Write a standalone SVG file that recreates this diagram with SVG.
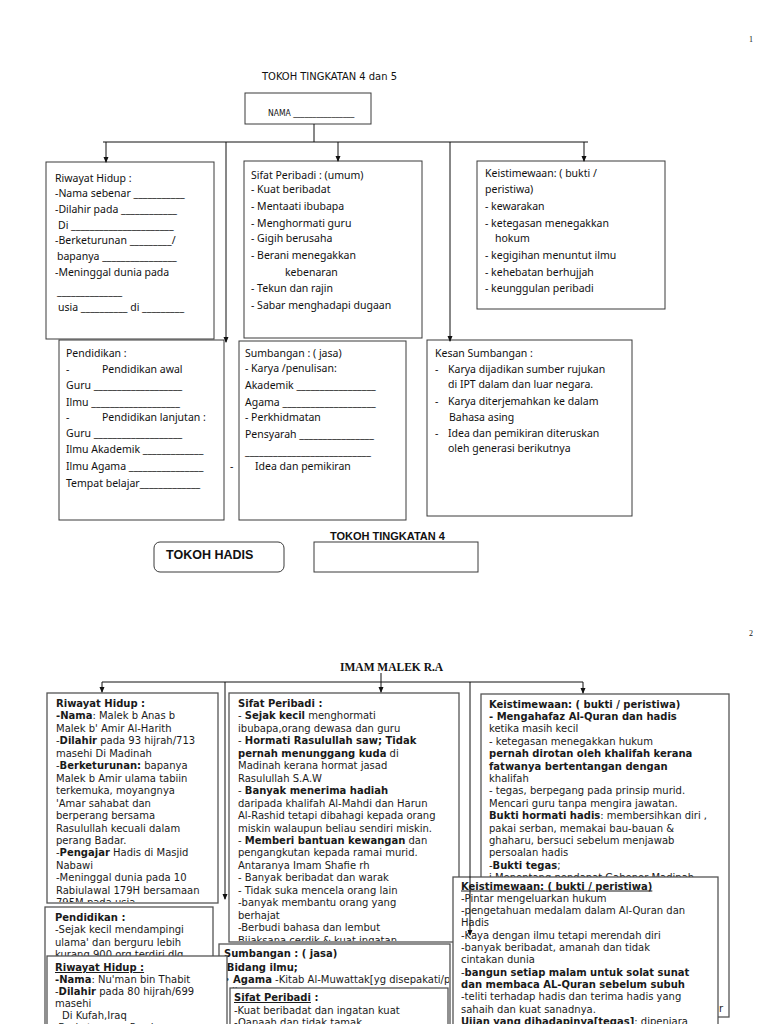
<svg xmlns="http://www.w3.org/2000/svg" width="768" height="1024" viewBox="0 0 768 1024">
<style>
.box{fill:#fff;stroke:#3a3a3a;stroke-width:1}
.box2{fill:#fff;stroke:#555;stroke-width:1.3}
.t1{font-family:"Noto Sans","DejaVu Sans",sans-serif;font-size:10.5px;fill:#111}
.t2{font-family:"DejaVu Sans",sans-serif;font-size:10px;fill:#1a1a1a}
.tc{font-family:"DejaVu Sans Condensed","DejaVu Sans",sans-serif;fill:#111}
.hb{font-family:"Liberation Sans",Arial,sans-serif;font-weight:bold;fill:#111}
.b{font-weight:bold}
.u{text-decoration:underline}
.ln{stroke:#111;stroke-width:1;fill:none}
.pg{font-family:"Liberation Serif",serif;font-size:8px;fill:#111}
</style>
<defs>
<marker id="ah" markerWidth="6" markerHeight="6" refX="5" refY="3" orient="auto" markerUnits="userSpaceOnUse">
<path d="M0,0.5 L6,3 L0,5.5 z" fill="#111"/>
</marker>
<clipPath id="cR1"><rect x="48" y="694" width="169" height="208"/></clipPath>
<clipPath id="cS1"><rect x="230" y="694" width="228" height="247"/></clipPath>
<clipPath id="cK1"><rect x="482" y="695" width="246" height="321"/></clipPath>
<clipPath id="cP2"><rect x="46" y="908" width="166" height="120"/></clipPath>
<clipPath id="cSu"><rect x="220" y="945" width="229" height="80"/></clipPath>
<clipPath id="cK2"><rect x="454" y="878" width="263" height="150"/></clipPath>
</defs>
<rect width="768" height="1024" fill="#fff"/>

<!-- PAGE 1 -->
<text class="pg" x="749" y="42">1</text>
<text class="tc" x="262" y="80" font-size="11" textLength="135" lengthAdjust="spacingAndGlyphs">TOKOH TINGKATAN 4 dan 5</text>

<g id="nama">
<rect class="box" x="245" y="93" width="126" height="31"/>
<text class="tc" x="268" y="116" font-size="8.5">NAMA ________________</text>
</g>

<g id="riwayat1">
<rect class="box" x="46" y="162" width="168" height="177"/>
<text class="t1" x="55" y="182">Riwayat Hidup :</text>
<text class="t1" x="55" y="197">-Nama sebenar ___________</text>
<text class="t1" x="55" y="213">-Dilahir pada ____________</text>
<text class="t1" x="58" y="229">Di ______________________</text>
<text class="t1" x="55" y="244">-Berketurunan _________/</text>
<text class="t1" x="57" y="260">bapanya ________________</text>
<text class="t1" x="55" y="276">-Meninggal dunia pada</text>
<text class="t1" x="57" y="295">______________</text>
<text class="t1" x="58" y="311">usia __________ di _________</text>
</g>

<g id="sifat1">
<rect class="box" x="244" y="161" width="178" height="177"/>
<text class="t1" x="251" y="179">Sifat Peribadi : (umum)</text>
<text class="t1" x="251" y="193">- Kuat beribadat</text>
<text class="t1" x="251" y="210">- Mentaati ibubapa</text>
<text class="t1" x="251" y="227">- Menghormati guru</text>
<text class="t1" x="251" y="242">- Gigih berusaha</text>
<text class="t1" x="251" y="259">- Berani menegakkan</text>
<text class="t1" x="285" y="276">kebenaran</text>
<text class="t1" x="251" y="292">- Tekun dan rajin</text>
<text class="t1" x="251" y="309">- Sabar menghadapi dugaan</text>
</g>

<g id="keist1">
<rect class="box" x="477" y="161" width="188" height="148"/>
<text class="t1" x="485" y="177">Keistimewaan: ( bukti /</text>
<text class="t1" x="485" y="193">peristiwa)</text>
<text class="t1" x="485" y="210">- kewarakan</text>
<text class="t1" x="485" y="227">- ketegasan menegakkan</text>
<text class="t1" x="495" y="242">hokum</text>
<text class="t1" x="485" y="259">- kegigihan menuntut ilmu</text>
<text class="t1" x="485" y="276">- kehebatan berhujjah</text>
<text class="t1" x="485" y="292">- keunggulan peribadi</text>
</g>

<g id="pendidikan1">
<rect class="box" x="59" y="340" width="165" height="180"/>
<text class="t1" x="66" y="357">Pendidikan :</text>
<text class="t1" x="66" y="373">-</text><text class="t1" x="102" y="373">Pendidikan awal</text>
<text class="t1" x="66" y="389">Guru ___________________</text>
<text class="t1" x="66" y="406">Ilmu ___________________</text>
<text class="t1" x="66" y="421">-</text><text class="t1" x="102" y="421">Pendidikan lanjutan :</text>
<text class="t1" x="66" y="437">Guru ___________________</text>
<text class="t1" x="66" y="453">Ilmu Akademik _____________</text>
<text class="t1" x="66" y="470">Ilmu Agama ________________</text>
<text class="t1" x="66" y="487">Tempat belajar_____________</text>
</g>

<g id="sumbangan1">
<rect class="box" x="239" y="341" width="167" height="179"/>
<text class="t1" x="245" y="357">Sumbangan : ( jasa)</text>
<text class="t1" x="245" y="372">- Karya /penulisan:</text>
<text class="t1" x="245" y="389">Akademik _________________</text>
<text class="t1" x="245" y="406">Agama ____________________</text>
<text class="t1" x="245" y="421">- Perkhidmatan</text>
<text class="t1" x="245" y="438">Pensyarah ________________</text>
<text class="t1" x="245" y="455">___________________________</text>
<text class="t1" x="255" y="470">Idea dan pemikiran</text>
<text class="t1" x="230" y="470">-</text>
</g>

<g id="kesan1">
<rect class="box" x="427" y="340" width="205" height="176"/>
<text class="t1" x="435" y="357">Kesan Sumbangan :</text>
<text class="t1" x="435" y="373">-</text><text class="t1" x="448" y="373">Karya dijadikan sumber rujukan</text>
<text class="t1" x="448" y="388">di IPT dalam dan luar negara.</text>
<text class="t1" x="435" y="405">-</text><text class="t1" x="448" y="405">Karya diterjemahkan ke dalam</text>
<text class="t1" x="449" y="421">Bahasa asing</text>
<text class="t1" x="435" y="437">-</text><text class="t1" x="448" y="437">Idea dan pemikiran diteruskan</text>
<text class="t1" x="448" y="452">oleh generasi berikutnya</text>
</g>

<g id="tokohHadis">
<rect x="154" y="542" width="130" height="30" rx="6" fill="#fff" stroke="#3a3a3a" stroke-width="1"/>
<text class="hb" x="166" y="559" font-size="12.5">TOKOH HADIS</text>
</g>
<g id="tokohT4">
<text class="hb" x="330" y="540" font-size="11">TOKOH TINGKATAN 4</text>
<rect class="box" x="314" y="542" width="164" height="30"/>
</g>

<!-- PAGE 2 -->
<text class="pg" x="749" y="636">2</text>
<g id="imamMalek">
<text x="340" y="671" font-family="Liberation Serif,serif" font-weight="bold" font-size="11.5" fill="#111">IMAM MALEK R.A</text>
</g>

<g id="riwayat2">
<rect class="box2" x="47" y="693" width="171" height="210"/>
<text class="t2" x="56" y="707" clip-path="url(#cR1)"><tspan class="b">Riwayat Hidup :</tspan><tspan x="56" dy="12.45"><tspan class="b">-Nama</tspan>: Malek b Anas b</tspan><tspan x="56" dy="12.45">Malek b' Amir Al-Harith</tspan><tspan x="56" dy="12.45">-<tspan class="b">Dilahir</tspan> pada 93 hijrah/713</tspan><tspan x="56" dy="12.45">masehi Di Madinah</tspan><tspan x="56" dy="12.45">-<tspan class="b">Berketurunan:</tspan>  bapanya</tspan><tspan x="56" dy="12.45">Malek b Amir ulama tabiin</tspan><tspan x="56" dy="12.45">terkemuka, moyangnya</tspan><tspan x="56" dy="12.45">'Amar sahabat dan</tspan><tspan x="56" dy="12.45">berperang bersama</tspan><tspan x="56" dy="12.45">Rasulullah kecuali dalam</tspan><tspan x="56" dy="12.45">perang Badar.</tspan><tspan x="56" dy="12.45">-<tspan class="b">Pengajar</tspan> Hadis di Masjid</tspan><tspan x="56" dy="12.45">Nabawi</tspan><tspan x="56" dy="12.45">-Meninggal dunia pada 10</tspan><tspan x="56" dy="12.45">Rabiulawal 179H bersamaan</tspan><tspan x="56" dy="12.45">795M pada usia</tspan></text>
</g>

<g id="sifat2">
<rect class="box2" x="229" y="693" width="230" height="249"/>
<text class="t2" x="238" y="707" clip-path="url(#cS1)"><tspan class="b">Sifat Peribadi :</tspan><tspan x="238" dy="12.45">- <tspan class="b">Sejak kecil</tspan> menghormati</tspan><tspan x="238" dy="12.45">ibubapa,orang dewasa dan guru</tspan><tspan x="238" dy="12.45">- <tspan class="b">Hormati Rasulullah saw; Tidak</tspan></tspan><tspan x="238" dy="12.45"><tspan class="b">pernah menunggang kuda</tspan> di</tspan><tspan x="238" dy="12.45">Madinah kerana hormat jasad</tspan><tspan x="238" dy="12.45">Rasulullah S.A.W</tspan><tspan x="238" dy="12.45">- <tspan class="b">Banyak menerima hadiah</tspan></tspan><tspan x="238" dy="12.45">daripada khalifah Al-Mahdi dan Harun</tspan><tspan x="238" dy="12.45">Al-Rashid tetapi dibahagi kepada orang</tspan><tspan x="238" dy="12.45">miskin walaupun beliau sendiri miskin.</tspan><tspan x="238" dy="12.45">- <tspan class="b">Memberi bantuan kewangan</tspan> dan</tspan><tspan x="238" dy="12.45">pengangkutan kepada ramai murid.</tspan><tspan x="238" dy="12.45">Antaranya Imam Shafie rh</tspan><tspan x="238" dy="12.45">- Banyak beribadat dan warak</tspan><tspan x="238" dy="12.45">- Tidak suka mencela orang lain</tspan><tspan x="238" dy="12.45">-banyak membantu orang yang</tspan><tspan x="238" dy="12.45">berhajat</tspan><tspan x="238" dy="12.45">-Berbudi bahasa dan lembut</tspan><tspan x="238" dy="12.45">Bijaksana cerdik &amp; kuat ingatan</tspan></text>
</g>

<g id="keist2a">
<rect class="box2" x="481" y="694" width="248" height="323"/>
<text class="t2" x="489" y="707.5" clip-path="url(#cK1)"><tspan class="b">Keistimewaan: ( bukti / peristiwa)</tspan><tspan x="489" dy="12.4" class="b">- Mengahafaz Al-Quran dan hadis</tspan><tspan x="489" dy="12.4">ketika masih kecil</tspan><tspan x="489" dy="12.4">- ketegasan menegakkan hukum</tspan><tspan x="489" dy="12.4" class="b">pernah dirotan oleh khalifah kerana</tspan><tspan x="489" dy="12.4" class="b">fatwanya bertentangan dengan</tspan><tspan x="489" dy="12.4">khalifah</tspan><tspan x="489" dy="12.4">- tegas,  berpegang pada prinsip  murid.</tspan><tspan x="489" dy="12.4">Mencari guru tanpa mengira jawatan.</tspan><tspan x="489" dy="12.4"><tspan class="b">Bukti hormati hadis</tspan>: membersihkan diri ,</tspan><tspan x="489" dy="12.4">pakai serban, memakai bau-bauan &amp;</tspan><tspan x="489" dy="12.4">ghaharu, bersuci sebelum menjawab</tspan><tspan x="489" dy="12.4">persoalan hadis</tspan><tspan x="489" dy="12.4">-<tspan class="b">Bukti tegas</tspan>;</tspan><tspan x="489" dy="12.4">i.Menentang pendapat Gabenor Madinah</tspan></text>
<text class="t2" x="719" y="1012">r</text>
</g>

<g id="pendidikan2">
<rect class="box2" x="45" y="907" width="168" height="130"/>
<text class="t2" x="55" y="921" clip-path="url(#cP2)"><tspan class="b">Pendidikan :</tspan><tspan x="55" dy="12.4">-Sejak kecil mendampingi</tspan><tspan x="55" dy="12.4">ulama' dan berguru lebih</tspan><tspan x="55" dy="12.4">kurang 900 org terdiri dlg</tspan></text>
</g>

<g id="sumbangan2">
<rect class="box2" x="219" y="944" width="231" height="90"/>
<g clip-path="url(#cSu)">
<text class="t2 b" x="224" y="957">Sumbangan : ( jasa)</text>
<text class="t2 b" x="216" y="971">1.Bidang ilmu;</text>
<text class="t2" x="224" y="983" font-size="9">• <tspan class="b">Agama</tspan> -Kitab Al-Muwattak[yg disepakati/para ulama]</text>
<text class="t2" x="232" y="995" font-size="9">ii</text>
</g>
</g>

<g id="riwayat3">
<rect class="box2" x="47" y="956" width="180" height="80"/>
<text class="t2" x="55" y="971"><tspan class="b u">Riwayat Hidup :</tspan><tspan x="55" dy="12"><tspan class="b">-Nama</tspan>: Nu'man bin Thabit</tspan><tspan x="55" dy="12">-<tspan class="b">Dilahir</tspan> pada 80 hijrah/699</tspan><tspan x="55" dy="12">masehi</tspan><tspan x="62" dy="12">Di Kufah,Iraq</tspan><tspan x="55" dy="12">-Berketurunan Parsi</tspan></text>
</g>

<g id="sifat3">
<rect class="box2" x="230" y="988" width="218" height="50"/>
<text class="t2" x="234" y="1001"><tspan class="b"><tspan class="u">Sifat Peribadi</tspan> :</tspan><tspan x="234" dy="12.5">-Kuat beribadat dan ingatan kuat</tspan><tspan x="234" dy="12.5">-Qanaah dan tidak tamak</tspan></text>
</g>

<g id="keist2b">
<rect class="box2" x="453" y="877" width="265" height="160"/>
<text class="t2" x="461" y="889.5" clip-path="url(#cK2)"><tspan class="b u">Keistimewaan: ( bukti / peristiwa)</tspan><tspan x="461" dy="12.3">-Pintar mengeluarkan hukum</tspan><tspan x="461" dy="12.3">-pengetahuan medalam dalam Al-Quran dan</tspan><tspan x="461" dy="12.3">Hadis</tspan><tspan x="461" dy="12.3">-Kaya dengan ilmu tetapi merendah diri</tspan><tspan x="461" dy="12.3">-banyak beribadat, amanah dan tidak</tspan><tspan x="461" dy="12.3">cintakan  dunia</tspan><tspan x="461" dy="12.3">-<tspan class="b">bangun setiap malam untuk solat sunat</tspan></tspan><tspan x="461" dy="12.3" class="b">dan membaca AL-Quran sebelum subuh</tspan><tspan x="461" dy="12.3">-teliti terhadap hadis dan terima hadis yang</tspan><tspan x="461" dy="12.3">sahaih dan kuat sanadnya.</tspan><tspan x="461" dy="12.3"><tspan class="b">Ujian yang dihadapinya[tegas]</tspan>: dipenjara</tspan></text>
</g>

<g id="connectors">
<path class="ln" d="M314,124 V142 M103,142 H588"/>
<path class="ln" d="M106,142 V162" marker-end="url(#ah)"/>
<path class="ln" d="M226,142 V342" marker-end="url(#ah)"/>
<path class="ln" d="M338,142 V161" marker-end="url(#ah)"/>
<path class="ln" d="M450,142 V341" marker-end="url(#ah)"/>
<path class="ln" d="M584,142 V161" marker-end="url(#ah)"/>
<path class="ln" d="M102,682 H583"/>
<path class="ln" d="M102,682 V692" marker-end="url(#ah)"/>
<path class="ln" d="M225,682 V899" marker-end="url(#ah)"/>
<path class="ln" d="M381,673 V692" marker-end="url(#ah)"/>
<path class="ln" d="M470,682 V935" marker-end="url(#ah)"/>
<path class="ln" d="M583,682 V693" marker-end="url(#ah)"/>
</g>
</svg>
